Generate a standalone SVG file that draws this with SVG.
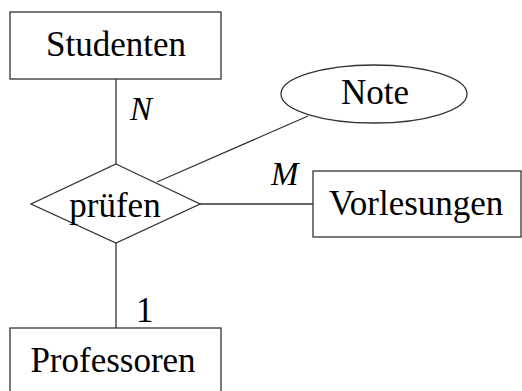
<svg xmlns="http://www.w3.org/2000/svg" width="522" height="391" viewBox="0 0 522 391">
<style>
.shape{fill:#fff;stroke:#333;stroke-width:1.3}
.edge{stroke:#333;stroke-width:1.3;fill:none}
text{font-family:"Liberation Serif","Times New Roman",serif;font-size:35px;fill:#000}
.c{text-anchor:middle}
.i{font-style:italic;font-size:33px}
</style>
<rect width="522" height="391" fill="#fff"/>
<g id="connectors">
<line class="edge" x1="116" y1="79" x2="116" y2="164"/>
<line class="edge" x1="116" y1="243" x2="116" y2="328"/>
<line class="edge" x1="200" y1="204" x2="313" y2="204"/>
<line class="edge" x1="157" y1="182" x2="308" y2="116"/>
</g>
<g id="studenten">
<rect class="shape" x="10" y="12" width="211" height="67"/>
<text class="c" x="116" y="56">Studenten</text>
</g>
<g id="pruefen">
<polygon class="shape" points="116,164 200,204 116,243 31,204"/>
<text class="c" x="115" y="217">prüfen</text>
</g>
<g id="note">
<ellipse class="shape" cx="374" cy="94" rx="93" ry="29"/>
<text class="c" x="375" y="104">Note</text>
</g>
<g id="vorlesungen">
<rect class="shape" x="313" y="171" width="208" height="66"/>
<text x="329" y="215">Vorlesungen</text>
</g>
<g id="professoren">
<rect class="shape" x="10" y="328" width="211" height="80"/>
<text class="c" x="113" y="372">Professoren</text>
</g>
<g id="labels">
<text class="i" x="130" y="120">N</text>
<text class="i" x="271" y="185">M</text>
<text x="136" y="322">1</text>
</g>
</svg>
